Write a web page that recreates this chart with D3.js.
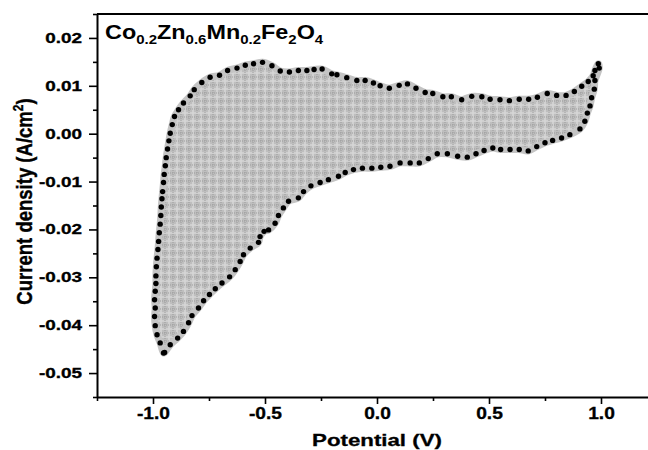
<!DOCTYPE html>
<html><head><meta charset="utf-8">
<script src="https://cdn.jsdelivr.net/npm/d3@7"></script>
<style>
body{margin:0;background:#fff}
svg{display:block}
text{font-family:"Liberation Sans",Arial,sans-serif;font-weight:bold;fill:#000}
</style>
</head><body>
<svg id="chart" width="648" height="450"></svg>
<script>
// Forward (anodic) sweep: potential (V) and current density (A/cm2)
const forwardV = [-0.953,-0.968,-0.982,-0.990,-0.993,-0.990,-0.993,-0.990,-0.987,-0.987,-0.985,-0.982,-0.978,-0.975,-0.972,-0.968,-0.965,-0.963,-0.960,-0.957,-0.953,-0.950,-0.945,-0.941,-0.935,-0.929,-0.923,-0.914,-0.904,-0.886,-0.864,-0.834,-0.816,-0.782,-0.745,-0.703,-0.667,-0.625,-0.588,-0.551,-0.511,-0.469,-0.432,-0.391,-0.351,-0.313,-0.281,-0.245,-0.202,-0.179,-0.135,-0.090,-0.053,-0.016,0.014,0.055,0.099,0.136,0.174,0.215,0.249,0.294,0.332,0.378,0.423,0.468,0.505,0.549,0.591,0.635,0.677,0.716,0.760,0.802,0.844,0.881,0.914,0.943,0.965,0.973,0.988];
const forwardJ = [-0.0458,-0.0437,-0.0420,-0.0401,-0.0382,-0.0364,-0.0347,-0.0329,-0.0313,-0.0297,-0.0278,-0.0260,-0.0242,-0.0225,-0.0207,-0.0189,-0.0171,-0.0153,-0.0136,-0.0121,-0.0102,-0.0085,-0.0067,-0.0050,-0.0032,-0.0015,0.0001,0.0019,0.0036,0.0050,0.0064,0.0079,0.0092,0.0107,0.0118,0.0122,0.0132,0.0137,0.0143,0.0146,0.0149,0.0142,0.0131,0.0129,0.0132,0.0132,0.0134,0.0135,0.0125,0.0123,0.0117,0.0111,0.0111,0.0106,0.0100,0.0095,0.0101,0.0104,0.0095,0.0086,0.0084,0.0077,0.0077,0.0071,0.0078,0.0077,0.0072,0.0071,0.0069,0.0072,0.0072,0.0076,0.0084,0.0080,0.0080,0.0088,0.0099,0.0109,0.0121,0.0132,0.0146];
// Reverse (cathodic) sweep
const reverseV = [0.992,0.973,0.970,0.958,0.951,0.939,0.928,0.906,0.861,0.824,0.784,0.750,0.713,0.675,0.635,0.594,0.552,0.517,0.478,0.442,0.403,0.360,0.314,0.269,0.229,0.189,0.148,0.103,0.058,0.017,-0.023,-0.065,-0.105,-0.142,-0.172,-0.217,-0.254,-0.295,-0.328,-0.351,-0.395,-0.418,-0.440,-0.455,-0.484,-0.504,-0.522,-0.529,-0.566,-0.596,-0.611,-0.633,-0.658,-0.692,-0.722,-0.748,-0.774,-0.797,-0.826,-0.841,-0.864,-0.890,-0.923,-0.948];
const reverseJ = [0.0137,0.0111,0.0093,0.0075,0.0058,0.0043,0.0026,0.0010,-0.0002,-0.0009,-0.0014,-0.0019,-0.0027,-0.0036,-0.0033,-0.0033,-0.0033,-0.0030,-0.0035,-0.0042,-0.0049,-0.0047,-0.0042,-0.0042,-0.0052,-0.0061,-0.0061,-0.0061,-0.0068,-0.0070,-0.0072,-0.0072,-0.0075,-0.0081,-0.0089,-0.0096,-0.0102,-0.0109,-0.0121,-0.0134,-0.0141,-0.0155,-0.0171,-0.0187,-0.0201,-0.0204,-0.0215,-0.0227,-0.0239,-0.0253,-0.0267,-0.0284,-0.0299,-0.0312,-0.0324,-0.0336,-0.0349,-0.0364,-0.0380,-0.0395,-0.0413,-0.0427,-0.0441,-0.0457];

const xTicks = [-1.0,-0.5,0.0,0.5,1.0];
const xMinorTicks = [-1.25,-0.75,-0.25,0.25,0.75,1.25];
const yTicks = [0.02,0.01,0.00,-0.01,-0.02,-0.03,-0.04,-0.05];
const yMinorTicks = [0.025,0.015,0.005,-0.005,-0.015,-0.025,-0.035,-0.045,-0.055];
const titleParts = [["Co",0],["0.2",1],["Zn",0],["0.6",1],["Mn",0],["0.2",1],["Fe",0],["2",1],["O",0],["4",1]];
const xTitle = "Potential (V)";
const yTitleParts = [["Current density (A/cm",0],["2",1],[")",0]];

const svg = d3.select("#chart");
const x = d3.scaleLinear().domain([-1.25,1.25]).range([97,657]);
const y = d3.scaleLinear().domain([-0.055,0.025]).range([397,14]);

// fill pattern
const defs = svg.append("defs");
const pat = defs.append("pattern").attr("id","grid").attr("patternUnits","userSpaceOnUse")
  .attr("width",8).attr("height",8);
pat.append("rect").attr("width",8).attr("height",8).attr("fill","#bebebe");
pat.append("path").attr("d","M1,0V8M0,1H8").attr("stroke","#d6d6d6").attr("stroke-width",1.6);
pat.append("path").attr("d","M5,0V8M0,5H8").attr("stroke","#9c9c9c").attr("stroke-width",1).attr("stroke-dasharray","1,1");

const pts = forwardV.map((v,i)=>[v,forwardJ[i]]).concat(reverseV.map((v,i)=>[v,reverseJ[i]]));
const line = d3.line().x(d=>x(d[0])).y(d=>y(d[1])).curve(d3.curveCatmullRomClosed.alpha(0.5));

const plot = svg.append("g");
plot.append("path").datum(pts).attr("d",line)
  .attr("fill","url(#grid)").attr("stroke","#c4c4c4").attr("stroke-width",7).attr("stroke-linejoin","round");
plot.selectAll("circle").data(pts).join("circle")
  .attr("cx",d=>x(d[0])).attr("cy",d=>y(d[1])).attr("r",2.7).attr("fill","#000");

// top frame line
svg.append("line").attr("x1",x(-1.25)).attr("x2",x(1.25)).attr("y1",y(0.025)).attr("y2",y(0.025))
  .attr("stroke","#000").attr("stroke-width",2.2);

// X axis
const gx = svg.append("g").attr("transform",`translate(0,${y(-0.055)})`);
gx.call(d3.axisBottom(x).tickValues(xTicks).tickSize(7).tickSizeOuter(0).tickFormat(d=>d.toFixed(1)));
gx.append("g").call(d3.axisBottom(x).tickValues(xMinorTicks).tickSize(4).tickSizeOuter(0).tickFormat(""))
  .select(".domain").remove();
gx.selectAll(".domain").attr("stroke-width",2);
gx.selectAll(".tick line").attr("stroke-width",1.6);
gx.selectAll(".tick text").attr("font-size",16).attr("y",11).attr("transform","scale(1.2,1)")
  .style("font-family",'"Liberation Sans",Arial,sans-serif').style("font-weight","bold").attr("fill","#000")
  .attr("stroke","#000").attr("stroke-width",0.3);

// Y axis
const gy = svg.append("g").attr("transform",`translate(${x(-1.25)},0)`);
gy.call(d3.axisLeft(y).tickValues(yTicks).tickSize(8).tickSizeOuter(0).tickFormat(d=>d.toFixed(2)));
gy.append("g").call(d3.axisLeft(y).tickValues(yMinorTicks).tickSize(4).tickSizeOuter(0).tickFormat(""))
  .select(".domain").remove();
gy.selectAll(".domain").attr("stroke-width",2);
gy.selectAll(".tick line").attr("stroke-width",1.6);
gy.selectAll(".tick text").attr("font-size",14).attr("x",0).attr("transform","translate(-15,0) scale(1.35,1)")
  .style("font-family",'"Liberation Sans",Arial,sans-serif').style("font-weight","bold").attr("fill","#000")
  .attr("stroke","#000").attr("stroke-width",0.3);

// title inside plot
const tt = svg.append("g").attr("transform","translate(105,38.5) scale(1.2,1)")
  .append("text").attr("font-size",19.5);
let prevSub = 0;
titleParts.forEach(([s,sub])=>{
  tt.append("tspan").text(s).attr("font-size",sub?12.5:19.5).attr("dy",sub===prevSub?0:(sub?5:-5));
  prevSub = sub;
});

// x title
svg.append("g").attr("transform",`translate(${x(0)},445.5) scale(1.31,1)`)
  .append("text").attr("text-anchor","middle").attr("font-size",17).attr("stroke","#000").attr("stroke-width",0.3).text(xTitle);

// y title
const yt = svg.append("g").attr("transform","translate(32,201.5) scale(1.33,1.09) rotate(-90)")
  .append("text").attr("text-anchor","middle").attr("font-size",17).attr("stroke","#000").attr("stroke-width",0.3);
prevSub = 0;
yTitleParts.forEach(([s,sup])=>{
  yt.append("tspan").text(s).attr("font-size",sup?11:17).attr("dy",sup===prevSub?0:(sup?-7:7));
  prevSub = sup;
});
</script>
</body></html>
